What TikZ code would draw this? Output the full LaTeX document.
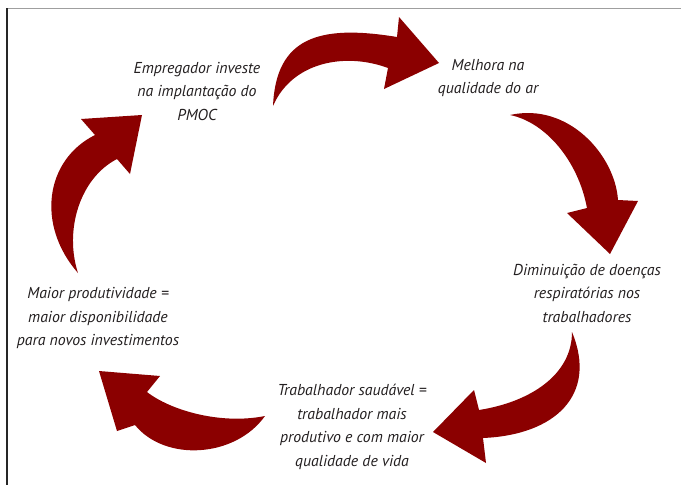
\documentclass[tikz,border=0pt]{standalone}
\usepackage{fontspec}
\setmainfont{PT Sans}
\definecolor{arrowred}{RGB}{139,0,0}
\definecolor{txt}{RGB}{35,31,32}
\begin{document}
\begin{tikzpicture}[x=1pt,y=-1pt,
  lbl/.style={align=center,text=txt,font=\fontsize{15.8}{23.5}\selectfont\itshape,inner sep=0pt},
  blockarrow/.style={fill=arrowred,draw=none}]
\useasboundingbox (0,0) rectangle (681,485);
% frame
\draw[gray!75,line width=1.4pt] (7,8.5) -- (681,8.5);
\draw[black!85,line width=1.2pt] (7,8) -- (7,485);
% texts
\node[lbl] (emp) at (197,91) {Empregador investe\\na implantação do\\PMOC};
\node[lbl] (mel) at (488,78) {Melhora na\\qualidade do ar};
\node[lbl] (dim) at (587,293) {Diminuição de doenças\\respiratórias nos\\trabalhadores};
\node[lbl] (tra) at (352,427) {Trabalhador saudável =\\trabalhador mais\\produtivo e com maior\\qualidade de vida};
\node[lbl] (mai) at (98,318) {Maior produtividade =\\maior disponibilidade\\para novos investimentos};
% arrow 1 (top)
\fill[blockarrow] (273,106) .. controls (276,38) and (318,24) .. (397,37)
  -- (399,17) -- (439,63) -- (384,89) -- (388,68)
  .. controls (345,52) and (292,62) .. (273,106) -- cycle;
% arrow 2 (right)
\fill[blockarrow] (510,115) .. controls (568,102) and (615,155) .. (618,200)
  -- (638,201) -- (610,254) -- (567,213) -- (587,208)
  .. controls (578,160) and (545,122) .. (510,115) -- cycle;
% arrow 3 (lower right)
\fill[blockarrow] (572,332) .. controls (598,395) and (555,435) .. (483,438)
  -- (486,463) -- (433,432) -- (474,390) -- (479,410)
  .. controls (530,402) and (572,375) .. (572,332) -- cycle;
% arrow 4 (lower left)
\fill[blockarrow] (265,416) .. controls (220,425) and (170,410) .. (147,392)
  -- (160,376) -- (99,371) -- (117,431) -- (135,425)
  .. controls (165,462) and (235,458) .. (265,416) -- cycle;
% arrow 5 (left)
\fill[blockarrow] (78,273) .. controls (36,225) and (45,160) .. (95,135)
  -- (81,119) -- (142,115) -- (130,174) -- (117,159)
  .. controls (80,178) and (64,230) .. (78,273) -- cycle;
\end{tikzpicture}
\end{document}
